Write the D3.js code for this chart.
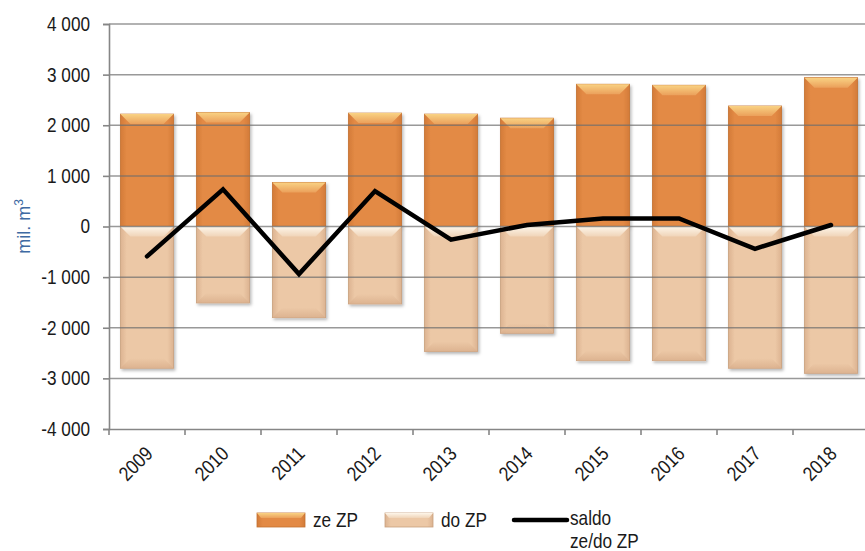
<!DOCTYPE html>
<html><head><meta charset="utf-8">
<script src="https://cdn.jsdelivr.net/npm/d3@7"></script>
<style>
html,body{margin:0;padding:0;background:#fff;}
svg{display:block;}
text{font-family:"Liberation Sans",Arial,sans-serif;}
</style></head>
<body>
<svg id="c" width="865" height="551"></svg>
<script>
const years = ["2009","2010","2011","2012","2013","2014","2015","2016","2017","2018"];
const zeZP = [2220, 2250, 870, 2240, 2220, 2140, 2810, 2790, 2380, 2940];
const doZP = [-2800, -1510, -1800, -1530, -2470, -2110, -2650, -2650, -2800, -2900];
const saldo = [-590, 735, -940, 700, -260, 30, 160, 160, -440, 30];
const yTicks = [-4000,-3000,-2000,-1000,0,1000,2000,3000,4000];
const legendLabels = ["ze ZP","do ZP",["saldo","ze/do ZP"]];

(function(){
const svg = d3.select("#c");
const W = 865, H = 551;
const mL = 109, mR = 869, mT = 24, mB = 429;
const SX = 0.86;

const x = d3.scaleBand().domain(years).range([mL, mR]).padding(0);
const y = d3.scaleLinear().domain([-4000, 4000]).range([mB, mT]);

const defs = svg.append("defs");
const sh = defs.append("filter").attr("id","sh").attr("x","-20%").attr("y","-20%").attr("width","150%").attr("height","150%");
sh.append("feDropShadow").attr("dx",1.5).attr("dy",2).attr("stdDeviation",1.8).attr("flood-color","#000").attr("flood-opacity",0.28);

function hGrad(id, edge, mid){
  const g = defs.append("linearGradient").attr("id",id).attr("x1",0).attr("x2",1).attr("y1",0).attr("y2",0);
  g.append("stop").attr("offset","0").attr("stop-color",edge);
  g.append("stop").attr("offset","0.12").attr("stop-color",mid);
  g.append("stop").attr("offset","0.88").attr("stop-color",mid);
  g.append("stop").attr("offset","1").attr("stop-color",edge);
}
function vGrad(id, a, b){
  const g = defs.append("linearGradient").attr("id",id).attr("x1",0).attr("x2",0).attr("y1",0).attr("y2",1);
  g.append("stop").attr("offset","0").attr("stop-color",a);
  g.append("stop").attr("offset","1").attr("stop-color",b);
}
hGrad("gPos","#d37b39","#e38a45");
hGrad("gNeg","#dcb391","#ecc8a6");
vGrad("bPos","#f9d283","#eba05b");
vGrad("bNeg","#fdf6ea","#f0d4b8");
vGrad("botNeg","#ecc8a6","#d9ae8b");

const bw = x.bandwidth() * 0.70;
const bev = 10;

function bar(g, cx, v, pos){
  const y0 = y(0), y1 = y(v);
  const yt = Math.min(y0,y1), h = Math.abs(y1-y0);
  const x0 = cx - bw/2;
  const grp = g.append("g").attr("filter","url(#sh)");
  grp.append("rect").attr("x",x0).attr("y",yt).attr("width",bw).attr("height",h)
    .attr("fill", pos ? "url(#gPos)" : "url(#gNeg)")
    .attr("stroke", pos ? "#c47131" : "#c9a07e").attr("stroke-width",0.8);
  const b = Math.min(bev, h/2);
  grp.append("polygon")
    .attr("points", [[x0,yt],[x0+bw,yt],[x0+bw-b,yt+b],[x0+b,yt+b]].map(p=>p.join(",")).join(" "))
    .attr("fill", pos ? "url(#bPos)" : "url(#bNeg)");
  if(!pos){
    const yb = yt+h;
    grp.append("polygon")
      .attr("points", [[x0,yb],[x0+bw,yb],[x0+bw-b,yb-b],[x0+b,yb-b]].map(p=>p.join(",")).join(" "))
      .attr("fill","url(#botNeg)").attr("opacity",0.8);
  }
}

const barsG = svg.append("g");
years.forEach((yr,i)=>{
  const cx = x(yr) + x.bandwidth()/2;
  bar(barsG, cx, zeZP[i], true);
  bar(barsG, cx, doZP[i], false);
});

svg.append("g").selectAll("line").data(yTicks.filter(t=>t>-4000)).join("line")
  .attr("x1",mL).attr("x2",W).attr("y1",d=>y(d)).attr("y2",d=>y(d))
  .attr("stroke","#6e6e6e").attr("stroke-opacity",0.7).attr("stroke-width",1.5);

const yAxis = svg.append("g").attr("transform",`translate(${mL},0)`)
  .call(d3.axisLeft(y).tickValues(yTicks).tickSize(6).tickPadding(13).tickFormat(d=>d3.format(",")(d).replace(/,/g," ").replace("\u2212","-")));
yAxis.select(".domain").attr("stroke","#868686").attr("stroke-width",1.6);
yAxis.selectAll(".tick line").attr("stroke","#868686").attr("stroke-width",1.6);
yAxis.selectAll(".tick text").attr("font-size",20).attr("fill","#1a1a1a")
  .attr("font-family",'"Liberation Sans",Arial,sans-serif')
  .attr("x", -19/SX).attr("transform",`scale(${SX},1)`);

const xAxis = svg.append("g").attr("transform",`translate(0,${mB})`)
  .call(d3.axisBottom(x).tickSize(0).tickFormat(""));
xAxis.select(".domain").attr("stroke","#868686").attr("stroke-width",1.6);
svg.append("g").selectAll("line").data(d3.range(years.length+1)).join("line")
  .attr("x1",d=>mL+d*x.step()).attr("x2",d=>mL+d*x.step())
  .attr("y1",mB).attr("y2",mB+6).attr("stroke","#868686").attr("stroke-width",1.6);
svg.append("g").selectAll("text").data(years).join("text")
  .attr("transform",d=>`translate(${x(d)+x.bandwidth()/2+2},${mB+21}) rotate(-45) scale(${SX},1)`)
  .attr("text-anchor","end").attr("dy","0.35em")
  .attr("font-size",20).attr("fill","#1a1a1a").text(d=>d);

const line = d3.line().x((d,i)=>x(years[i])+x.bandwidth()/2).y(d=>y(d));
svg.append("path").datum(saldo).attr("d",line).attr("fill","none")
  .attr("stroke","#000").attr("stroke-width",4.5).attr("stroke-linejoin","miter").attr("stroke-linecap","round");

const yt = svg.append("text").attr("transform",`translate(30,${y(0)}) rotate(-90)`)
  .attr("text-anchor","middle").attr("font-size",18).attr("fill","#3e6aa3");
yt.append("tspan").text("mil. m");
yt.append("tspan").attr("font-size",12).attr("dy",-7).text("3");

const lg = svg.append("g");
function legSwatch(x0, pos){
  const w=48,h=14,yy=513;
  lg.append("rect").attr("x",x0).attr("y",yy).attr("width",w).attr("height",h)
    .attr("fill",pos?"url(#gPos)":"url(#gNeg)").attr("stroke",pos?"#c47131":"#c9a07e").attr("stroke-width",0.8);
  lg.append("polygon").attr("points",[[x0,yy],[x0+w,yy],[x0+w-4,yy+5],[x0+4,yy+5]].map(p=>p.join(",")).join(" "))
    .attr("fill",pos?"url(#bPos)":"url(#bNeg)");
}
legSwatch(257,true);
legSwatch(385,false);
function ltxt(x0, y0, t){
  return lg.append("text").attr("transform",`translate(${x0},${y0}) scale(${SX},1)`)
    .attr("font-size",20).attr("fill","#1a1a1a").text(t);
}
ltxt(313,527,legendLabels[0]);
ltxt(441,527,legendLabels[1]);
lg.append("line").attr("x1",514).attr("x2",567).attr("y1",520).attr("y2",520).attr("stroke","#000").attr("stroke-width",4.5).attr("stroke-linecap","round");
ltxt(570,525,legendLabels[2][0]);
ltxt(570,548,legendLabels[2][1]);
})();
</script>
</body></html>
